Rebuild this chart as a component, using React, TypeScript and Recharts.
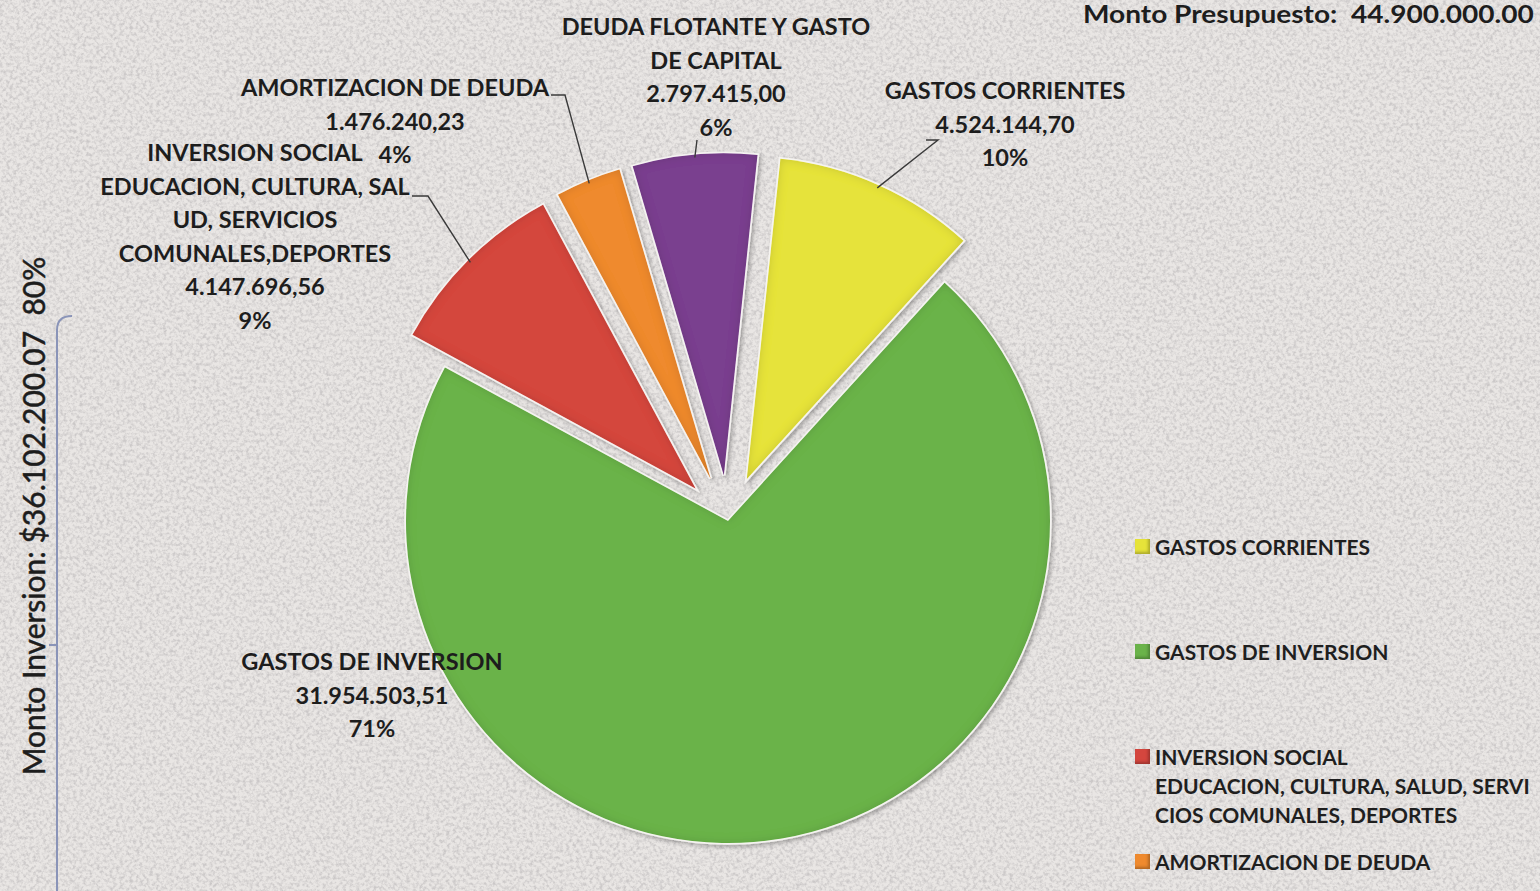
import React from 'react';
import { PieChart, Pie, Cell, Sector, Legend } from 'recharts';

// ---- datos del presupuesto ----
const CATEGORIES = [
  'GASTOS CORRIENTES',
  'GASTOS DE INVERSION',
  'INVERSION SOCIAL EDUCACION, CULTURA, SALUD, SERVICIOS COMUNALES, DEPORTES',
  'AMORTIZACION DE DEUDA',
  'DEUDA FLOTANTE Y GASTO DE CAPITAL',
];
const AMOUNTS = [4524144.7, 31954503.51, 4147696.56, 1476240.23, 2797415.0];
const PERCENT_LABELS = ['10%', '71%', '9%', '4%', '6%'];

// texto de las etiquetas tal como aparece partido en el gráfico
const LABEL_LINES = [
  ['GASTOS CORRIENTES'],
  ['GASTOS DE INVERSION'],
  ['INVERSION SOCIAL', 'EDUCACION, CULTURA, SAL', 'UD, SERVICIOS', 'COMUNALES,DEPORTES'],
  ['AMORTIZACION DE DEUDA'],
  ['DEUDA FLOTANTE Y GASTO', 'DE CAPITAL'],
];
const LEGEND_LINES = [
  ['GASTOS CORRIENTES'],
  ['GASTOS DE INVERSION'],
  ['INVERSION SOCIAL', 'EDUCACION, CULTURA, SALUD, SERVI', 'CIOS COMUNALES, DEPORTES'],
  ['AMORTIZACION DE DEUDA'],
  ['DEUDA FLOTANTE Y GASTO DE CAPITAL'],
];
const LEGEND_VISIBLE = 4; // el último ítem queda fuera del recorte original

const TITLE = 'Monto Presupuesto:  44.900.000.00';
const SIDE_NOTE = 'Monto Inversion: $36.102.200.07  80%';

// ---- estilos ----
const COLORS = ['#e6e33a', '#6ab34a', '#d4463e', '#ef8a2e', '#7a3f8f'];
const EXPLODE = [46, 0, 46, 46, 46];
// posición de cada etiqueta respecto al centro del pie (centro texto, 1a línea, inicio de guía)
const LABEL_LAYOUT = [
  { dx: 277, dy: -430, lead: [[198, -381], [210, -381]] },
  { dx: -356, dy: 141, lead: null },
  { dx: -473, dy: -368, lead: [[-316, -325], [-300, -325]] },
  { dx: -333, dy: -433, lead: [[-177, -426], [-163, -426]] },
  { dx: -12, dy: -494, lead: [[-31, -381]] },
];
const LINE_H = 33.6;
const FONT = 'Lato, "Open Sans", sans-serif';
const RADIAN = Math.PI / 180;

const formatAmount = (v: number) => {
  const [int, dec] = v.toFixed(2).split('.');
  return int.replace(/\B(?=(\d{3})+(?!\d))/g, '.') + ',' + dec;
};

const data = CATEGORIES.map((name, i) => ({ name, value: AMOUNTS[i] }));

const renderSlice = (props: any) => {
  const name = props.name ?? props.payload?.name;
  const i = CATEGORIES.indexOf(name);
  const d = EXPLODE[i] ?? 0;
  const rad = props.midAngle * RADIAN;
  const sx = props.cx + d * Math.cos(rad);
  const sy = props.cy - d * Math.sin(rad);
  return (
    <g>
      <Sector
        {...props}
        cx={sx}
        cy={sy}
        fill={COLORS[i]}
        stroke="#f5f3f1"
        strokeWidth={3.5}
        style={{ filter: 'url(#sliceShadow)' }}
      />
      {/* borde biselado */}
      <Sector {...props} cx={sx} cy={sy} fill={COLORS[i]} stroke="none" style={{ filter: 'url(#bevel)' }} />
    </g>
  );
};

const renderLabel = (props: any) => {
  const { cx, cy, midAngle, outerRadius, name } = props;
  const i = CATEGORIES.indexOf(name);
  const lay = LABEL_LAYOUT[i];
  const rad = midAngle * RADIAN;
  const reach = EXPLODE[i] + outerRadius - 3;
  const ex = cx + reach * Math.cos(rad);
  const ey = cy - reach * Math.sin(rad);
  const lines = [...LABEL_LINES[i], formatAmount(AMOUNTS[i]), PERCENT_LABELS[i]];
  let path = '';
  if (lay.lead) {
    path = lay.lead.map((p, k) => `${k === 0 ? 'M' : 'L'}${cx + p[0]},${cy + p[1]}`).join(' ') + ` L${ex},${ey}`;
  }
  return (
    <g>
      {path && <path d={path} stroke="#3a3a3a" strokeWidth={1.4} fill="none" />}
      <text
        x={cx + lay.dx}
        y={cy + lay.dy}
        textAnchor="middle"
        fontFamily={FONT}
        fontWeight={700}
        fontSize={23.5}
        fill="#1d1d1d"
      >
        {lines.map((l, k) => (
          <tspan key={k} x={cx + lay.dx} dy={k === 0 ? 8 : LINE_H}>
            {l}
          </tspan>
        ))}
      </text>
    </g>
  );
};

const renderLegend = (props: any) => (
  <div style={{ fontFamily: FONT, fontWeight: 700, fontSize: 21, color: '#1f1f1f' }}>
    {(props.payload || []).slice(0, LEGEND_VISIBLE).map((entry: any, i: number) => (
      <div key={i} style={{ position: 'relative', height: 105, paddingLeft: 20 }}>
        <span
          style={{
            position: 'absolute',
            left: 0,
            top: 7,
            width: 15,
            height: 15,
            background: COLORS[i],
            boxShadow: 'inset -2px -2px 3px rgba(0,0,0,0.25)',
          }}
        />
        {LEGEND_LINES[i].map((l, k) => (
          <div key={k} style={{ lineHeight: '29px', whiteSpace: 'nowrap' }}>
            {l}
          </div>
        ))}
      </div>
    ))}
  </div>
);

export default function App() {
  return (
    <div style={{ position: 'absolute', left: 0, top: 0, width: 1540, height: 891, overflow: 'hidden' }}>
      {/* fondo tipo papel */}
      <svg width={1540} height={891} style={{ position: 'absolute', left: 0, top: 0 }}>
        <defs>
          <filter id="paper" x="0" y="0" width="100%" height="100%">
            <feTurbulence type="fractalNoise" baseFrequency="0.3" numOctaves={3} seed={7} result="n" />
            <feColorMatrix
              in="n"
              type="matrix"
              values="0 0 0 0 0.60  0 0 0 0 0.58  0 0 0 0 0.58  2.6 0 0 0 -1.05"
            />
          </filter>
          <filter id="sliceShadow" x="-10%" y="-10%" width="120%" height="120%">
            <feDropShadow dx={2} dy={2} stdDeviation={2} floodColor="#000" floodOpacity={0.3} />
          </filter>
          <filter id="bevel" x="-5%" y="-5%" width="110%" height="110%">
            <feGaussianBlur in="SourceAlpha" stdDeviation={5} result="b" />
            <feComposite in="SourceAlpha" in2="b" operator="arithmetic" k1={0} k2={1} k3={-1} k4={0} result="edge" />
            <feFlood floodColor="#000" floodOpacity={0.28} />
            <feComposite in2="edge" operator="in" result="shade" />
            <feMerge>
              <feMergeNode in="SourceGraphic" />
              <feMergeNode in="shade" />
            </feMerge>
          </filter>
        </defs>
        <rect width={1540} height={891} fill="#e9e6e4" />
        <rect width={1540} height={891} filter="url(#paper)" />
      </svg>

      <div style={{ position: 'absolute', left: 0, top: 0 }}>
        <PieChart width={1540} height={891} margin={{ top: 0, right: 0, bottom: 0, left: 0 }}>
          <Pie
            data={data}
            dataKey="value"
            nameKey="name"
            cx={728}
            cy={521}
            outerRadius={322}
            startAngle={84}
            endAngle={-276}
            stroke="none"
            shape={renderSlice}
            label={renderLabel}
            labelLine={false}
            isAnimationActive={false}
          >
            {data.map((d, i) => (
              <Cell key={d.name} fill={COLORS[i]} />
            ))}
          </Pie>
          <Legend
            layout="vertical"
            align="right"
            verticalAlign="top"
            content={renderLegend}
            wrapperStyle={{ left: 1135, top: 532, width: 400 }}
          />
        </PieChart>
      </div>

      {/* anotaciones: título y llave lateral */}
      <svg width={1540} height={891} style={{ position: 'absolute', left: 0, top: 0, pointerEvents: 'none' }}>
        <text
          transform="translate(1083,23) scale(1.17,1)"
          fontFamily={FONT}
          fontWeight={700}
          fontSize={24}
          fill="#1d1d1d"
          xmlSpace="preserve"
        >
          {TITLE}
        </text>
        <text
          transform="translate(45,516) rotate(-90)"
          textAnchor="middle"
          fontFamily={FONT}
          fontSize={30}
          fill="#1d1d1d"
          stroke="#1d1d1d"
          strokeWidth={0.5}
          xmlSpace="preserve"
        >
          {SIDE_NOTE}
        </text>
        <path d="M72,316 Q57,316 57,330 L57,891 M49,645 L57,645" stroke="#8a94b8" strokeWidth={2} fill="none" />
      </svg>
    </div>
  );
}
